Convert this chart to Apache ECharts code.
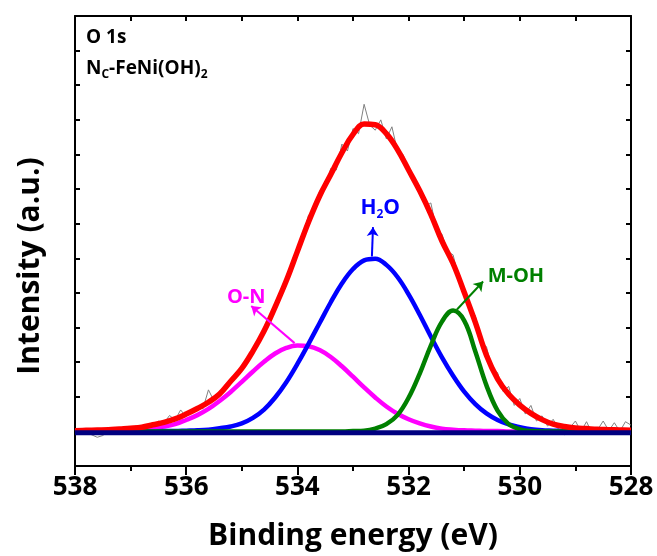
<!DOCTYPE html>
<html><head><meta charset="utf-8">
<script src="https://cdn.jsdelivr.net/npm/echarts@6/dist/echarts.min.js"></script>
<style>html,body{margin:0;padding:0;background:#fff}#c{width:657px;height:556px}</style>
</head><body><div id="c"></div>
<script>
// ---- data ----
const fitEnergy = [538.0,537.8,537.6,537.4,537.2,537.0,536.8,536.6,536.4,536.2,536.0,535.8,535.6,535.4,535.2,535.0,534.8,534.6,534.4,534.2,534.0,533.8,533.6,533.4,533.2,533.0,532.8,532.6,532.4,532.2,532.0,531.8,531.6,531.4,531.2,531.0,530.8,530.6,530.4,530.2,530.0,529.8,529.6,529.4,529.2,529.0,528.8,528.6,528.4,528.2,528.0];
const envelope = [0.02,0.03,0.04,0.05,0.07,0.09,0.12,0.19,0.26,0.36,0.50,0.66,0.84,1.08,1.45,1.82,2.32,2.90,3.60,4.35,5.20,6.05,6.80,7.42,8.05,8.58,8.88,8.86,8.60,8.14,7.55,6.95,6.27,5.50,4.85,4.02,3.15,2.20,1.52,1.07,0.76,0.52,0.34,0.21,0.14,0.10,0.08,0.06,0.05,0.04,0.03];
const peakON = [0,0.01,0.01,0.02,0.03,0.04,0.07,0.10,0.14,0.21,0.33,0.47,0.65,0.88,1.14,1.43,1.73,2.01,2.25,2.41,2.48,2.46,2.35,2.15,1.88,1.58,1.27,0.98,0.72,0.51,0.35,0.23,0.14,0.08,0.05,0.03,0.02,0.01,0.01,0,0,0,0,0,0,0,0,0,0,0,0];
const peakH2O = [0,0,0,0,0,0,0,0,0.01,0.01,0.02,0.03,0.05,0.09,0.14,0.23,0.39,0.63,0.98,1.42,1.95,2.53,3.13,3.73,4.27,4.69,4.94,4.99,4.81,4.46,3.96,3.37,2.74,2.14,1.61,1.15,0.79,0.52,0.33,0.20,0.12,0.06,0.03,0.02,0.01,0,0,0,0,0,0];
const peakMOH = [0,0,0,0,0,0,0,0,0,0,0,0,0,0,0,0,0,0,0,0,0,0,0,0,0,0.01,0.02,0.08,0.21,0.47,0.97,1.67,2.48,3.17,3.49,3.20,2.31,1.33,0.60,0.21,0.06,0.01,0,0,0,0,0,0,0,0,0];
const baseEnergy = [538, 528];
const baseValues = [-0.04, -0.04];
const rawEnergy = [538.0,537.9,537.8,537.7,537.6,537.5,537.4,537.3,537.2,537.1,537.0,536.9,536.8,536.7,536.6,536.5,536.4,536.3,536.2,536.1,536.0,535.9,535.8,535.7,535.6,535.5,535.4,535.3,535.2,535.1,535.0,534.9,534.8,534.7,534.6,534.5,534.4,534.3,534.2,534.1,534.0,533.9,533.8,533.7,533.6,533.5,533.4,533.3,533.2,533.1,533.0,532.9,532.8,532.7,532.6,532.5,532.4,532.3,532.2,532.1,532.0,531.9,531.8,531.7,531.6,531.5,531.4,531.3,531.2,531.1,531.0,530.9,530.8,530.7,530.6,530.5,530.4,530.3,530.2,530.1,530.0,529.9,529.8,529.7,529.6,529.5,529.4,529.3,529.2,529.1,529.0,528.9,528.8,528.7,528.6,528.5,528.4,528.3,528.2,528.1,528.0];
const rawValues = [0.03,0.00,-0.04,-0.10,-0.17,-0.12,0.02,0.08,0.04,0.12,0.05,0.16,-0.05,0.20,0.06,0.30,0.24,0.46,0.33,0.62,0.42,0.60,0.70,0.65,1.20,0.88,1.05,1.35,1.40,1.70,1.78,2.10,2.38,2.62,2.85,3.30,3.55,4.05,4.30,4.85,5.10,5.65,6.25,6.35,6.95,7.00,7.60,7.55,8.30,8.10,8.75,8.60,9.45,8.85,8.70,9.00,8.45,8.80,8.10,8.00,7.60,7.25,7.00,6.50,6.60,5.85,5.70,5.20,5.10,4.45,4.15,3.50,3.35,2.55,2.45,1.80,1.70,1.15,1.30,0.75,0.95,0.50,0.75,0.30,0.45,0.15,0.35,0.05,-0.10,0.10,0.30,0.00,0.28,-0.05,0.05,0.30,0.02,0.25,0.00,0.28,0.18];
const xTicks = {min: 528, max: 538, step: 2};
const yRange = {min: -1, max: 12, step: 1};

// ---- chart ----
const F = '"Open Sans", Lato, sans-serif';
const zip = (xs, ys) => xs.map((x, i) => [x, ys[i]]);
const chart = echarts.init(document.getElementById('c'));
const axisLineStyle = {color: '#000', width: 2};
function arrow(color, from, to) {
  return {silent: true, symbol: ['none', 'arrow'], symbolSize: 9,
    lineStyle: {color: color, width: 2, type: 'solid'}, label: {show: false},
    data: [[{coord: from}, {coord: to}]]};
}
function tag(color, coord, fmt, rich) {
  return {silent: true, symbol: 'rect', symbolSize: 1, itemStyle: {color: 'transparent'},
    label: {show: true, position: 'inside', formatter: fmt, color: color, fontFamily: F,
      fontWeight: 'bold', fontSize: 20, rich: rich},
    data: [{coord: coord}]};
}
const subRich = (color) => ({
  a: {fontFamily: F, fontWeight: 'bold', fontSize: 21, color: color, lineHeight: 23, verticalAlign: 'top'},
  s: {fontFamily: F, fontWeight: 'bold', fontSize: 12, color: color, lineHeight: 13, verticalAlign: 'bottom'}
});
const lineSeries = (name, xs, ys, color, width, extra) => Object.assign({
  name: name, type: 'line', data: zip(xs, ys), showSymbol: false, smooth: 0.4,
  lineStyle: {color: color, width: width}, itemStyle: {color: color}, silent: true
}, extra || {});

chart.setOption({
  animation: false,
  grid: {left: 75, right: 26, top: 16, bottom: 89},
  xAxis: [{
    type: 'value', min: xTicks.min, max: xTicks.max, interval: xTicks.step, inverse: true, position: 'bottom',
    axisLine: {onZero: false, lineStyle: axisLineStyle},
    axisTick: {inside: false, length: 9, lineStyle: axisLineStyle},
    minorTick: {show: true, splitNumber: 2, length: 5, lineStyle: axisLineStyle},
    splitLine: {show: false},
    axisLabel: {fontFamily: F, fontWeight: 'bold', fontSize: 26, color: '#000', margin: 9},
    name: 'Binding energy (eV)', nameLocation: 'middle', nameGap: 55,
    nameTextStyle: {fontFamily: F, fontWeight: 'bold', fontSize: 30, color: '#000'}
  }, {
    type: 'value', min: xTicks.min, max: xTicks.max, interval: 1, inverse: true, position: 'top',
    axisLine: {onZero: false, lineStyle: axisLineStyle},
    axisTick: {inside: true, length: 5, lineStyle: axisLineStyle},
    axisLabel: {show: false}, splitLine: {show: false}
  }],
  yAxis: [{
    type: 'value', min: yRange.min, max: yRange.max, interval: yRange.step,
    axisLine: {show: true, onZero: false, lineStyle: axisLineStyle},
    axisTick: {show: true, inside: true, length: 5, lineStyle: axisLineStyle},
    axisLabel: {show: false}, splitLine: {show: false},
    name: 'Intensity (a.u.)', nameLocation: 'middle', nameGap: 30,
    nameTextStyle: {fontFamily: F, fontWeight: 'bold', fontSize: 30, color: '#000', padding: [0, 50, 0, 0]}
  }, {
    type: 'value', min: yRange.min, max: yRange.max, interval: yRange.step, position: 'right',
    axisLine: {show: true, onZero: false, lineStyle: axisLineStyle},
    axisTick: {show: true, inside: true, length: 5, lineStyle: axisLineStyle},
    axisLabel: {show: false}, splitLine: {show: false}
  }],
  series: [
    lineSeries('raw', rawEnergy, rawValues, '#808080', 1, {smooth: false}),
    lineSeries('O-N', fitEnergy, peakON, '#FF00FF', 4.5, {
      markLine: arrow('#FF00FF', [534.05, 2.55], [534.83, 3.62]),
      markPoint: tag('#FF00FF', [534.92, 3.87], 'O-N')
    }),
    lineSeries('H2O', fitEnergy, peakH2O, '#0000FF', 4.5, {
      markLine: arrow('#0000FF', [532.66, 5.05], [532.64, 5.9]),
      markPoint: tag('#0000FF', [532.51, 6.42], '{a|H}{s|2}{a|O}', subRich('#0000FF'))
    }),
    lineSeries('M-OH', fitEnergy, peakMOH, '#008000', 4.5, {
      markLine: arrow('#008000', [531.13, 3.52], [530.66, 4.33]),
      markPoint: tag('#008000', [530.07, 4.48], 'M-OH')
    }),
    lineSeries('envelope', fitEnergy, envelope, '#FF0000', 5.5),
    lineSeries('baseline', baseEnergy, baseValues, '#000080', 5, {smooth: false})
  ],
  graphic: [
    {type: 'text', left: 86, top: 28, silent: true,
      style: {text: 'O 1s', fontFamily: F, fontWeight: 'bold', fontSize: 19, fill: '#000'}},
    {type: 'text', left: 86, top: 59, silent: true,
      style: {text: '{a|N}{s|C}{a|-FeNi(OH)}{s|2}', rich: {
        a: {fontFamily: F, fontWeight: 'bold', fontSize: 19, fill: '#000', lineHeight: 22, verticalAlign: 'top'},
        s: {fontFamily: F, fontWeight: 'bold', fontSize: 12, fill: '#000', lineHeight: 13, verticalAlign: 'bottom'}
      }, lineHeight: 31}}
  ]
});
</script>
</body></html>
